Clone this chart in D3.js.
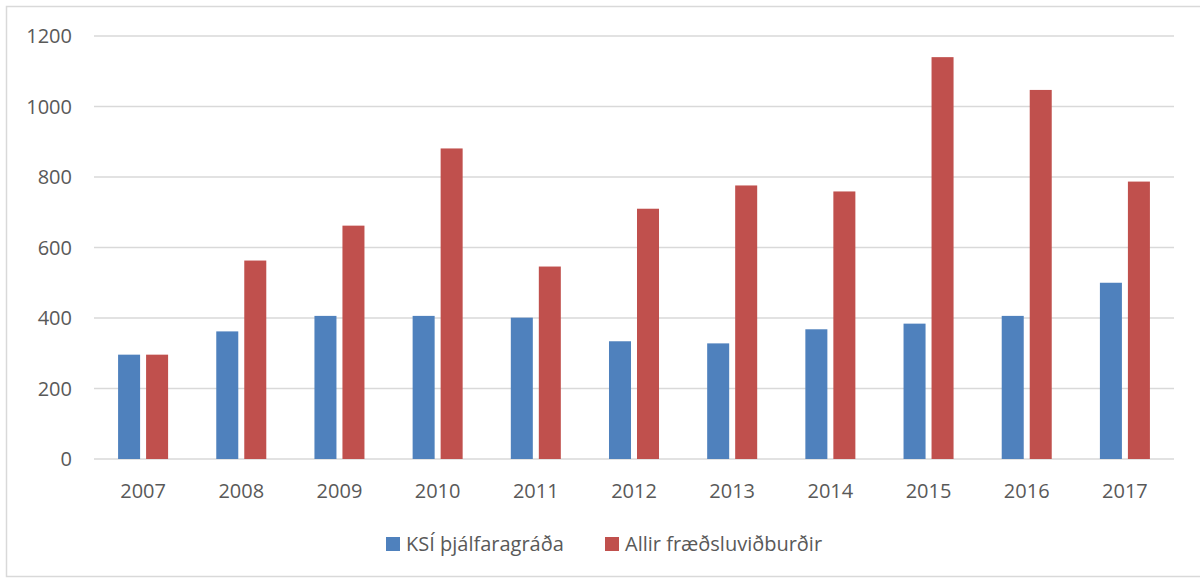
<!DOCTYPE html>
<html>
<head>
<meta charset="utf-8">
<script src="https://cdn.jsdelivr.net/npm/d3@7"></script>
<style>
  html, body { margin: 0; padding: 0; background: #fff; }
  svg { display: block; font-family: "Open Sans", "Noto Sans", sans-serif; }
</style>
</head>
<body>
<div id="chart"></div>
<script>
const years = ['2007', '2008', '2009', '2010', '2011', '2012', '2013', '2014', '2015', '2016', '2017'];
const ksi = [296, 362, 406, 406, 401, 334, 328, 368, 384, 406, 500];
const allir = [296, 563, 662, 881, 546, 710, 776, 759, 1140, 1047, 787];
const seriesNames = ['KSÍ þjálfaragráða', 'Allir fræðsluviðburðir'];
const yTicks = [0, 200, 400, 600, 800, 1000, 1200];

const width = 1200, height = 578;
const margin = { top: 36, right: 26, bottom: 119, left: 94 };
const colors = ['#4F81BD', '#C0504D'];
const textColor = '#595959';
const fontSize = 20;

const svg = d3.select('#chart').append('svg')
  .attr('width', width)
  .attr('height', height);

// chart frame
svg.append('rect')
  .attr('x', 6.5).attr('y', 6.5)
  .attr('width', width + 10).attr('height', height - 8)
  .attr('fill', 'none')
  .attr('stroke', '#d9d9d9')
  .attr('stroke-width', 1.5);

const x = d3.scaleBand()
  .domain(years)
  .range([margin.left, width - margin.right]);

const x1 = d3.scaleBand()
  .domain([0, 1])
  .range([0, x.bandwidth()])
  .paddingInner(0.214)
  .paddingOuter(0.86);

const y = d3.scaleLinear()
  .domain([0, 1200])
  .range([height - margin.bottom, margin.top]);

// gridlines
svg.append('g').selectAll('line')
  .data(yTicks)
  .join('line')
  .attr('x1', margin.left)
  .attr('x2', width - margin.right)
  .attr('y1', d => y(d))
  .attr('y2', d => y(d))
  .attr('stroke', '#d9d9d9')
  .attr('stroke-width', 1.5);

// y labels
svg.append('g').selectAll('text')
  .data(yTicks)
  .join('text')
  .attr('x', 72)
  .attr('y', d => y(d))
  .attr('dy', '0.35em')
  .attr('text-anchor', 'end')
  .attr('fill', textColor)
  .attr('font-size', fontSize)
  .text(d => d);

// bars
const groups = svg.append('g').selectAll('g')
  .data(years.map((yr, i) => ({ yr, vals: [ksi[i], allir[i]] })))
  .join('g')
  .attr('transform', d => `translate(${x(d.yr)},0)`);

groups.selectAll('rect')
  .data(d => d.vals.map((v, k) => ({ v, k })))
  .join('rect')
  .attr('x', d => x1(d.k))
  .attr('width', x1.bandwidth())
  .attr('y', d => y(d.v))
  .attr('height', d => y(0) - y(d.v))
  .attr('fill', d => colors[d.k]);

// x labels
svg.append('g').selectAll('text')
  .data(years)
  .join('text')
  .attr('x', d => x(d) + x.bandwidth() / 2)
  .attr('y', 491)
  .attr('dy', '0.35em')
  .attr('text-anchor', 'middle')
  .attr('fill', textColor)
  .attr('font-size', fontSize)
  .text(d => d);

// legend
const legendPos = [386, 605];
const legend = svg.append('g').selectAll('g')
  .data(seriesNames)
  .join('g')
  .attr('transform', (d, i) => `translate(${legendPos[i]},544)`);

legend.append('rect')
  .attr('x', 0).attr('y', -7)
  .attr('width', 14).attr('height', 14)
  .attr('fill', (d, i) => colors[i]);

legend.append('text')
  .attr('x', 20)
  .attr('dy', '0.35em')
  .attr('fill', textColor)
  .attr('font-size', fontSize)
  .text(d => d);
</script>
</body>
</html>
